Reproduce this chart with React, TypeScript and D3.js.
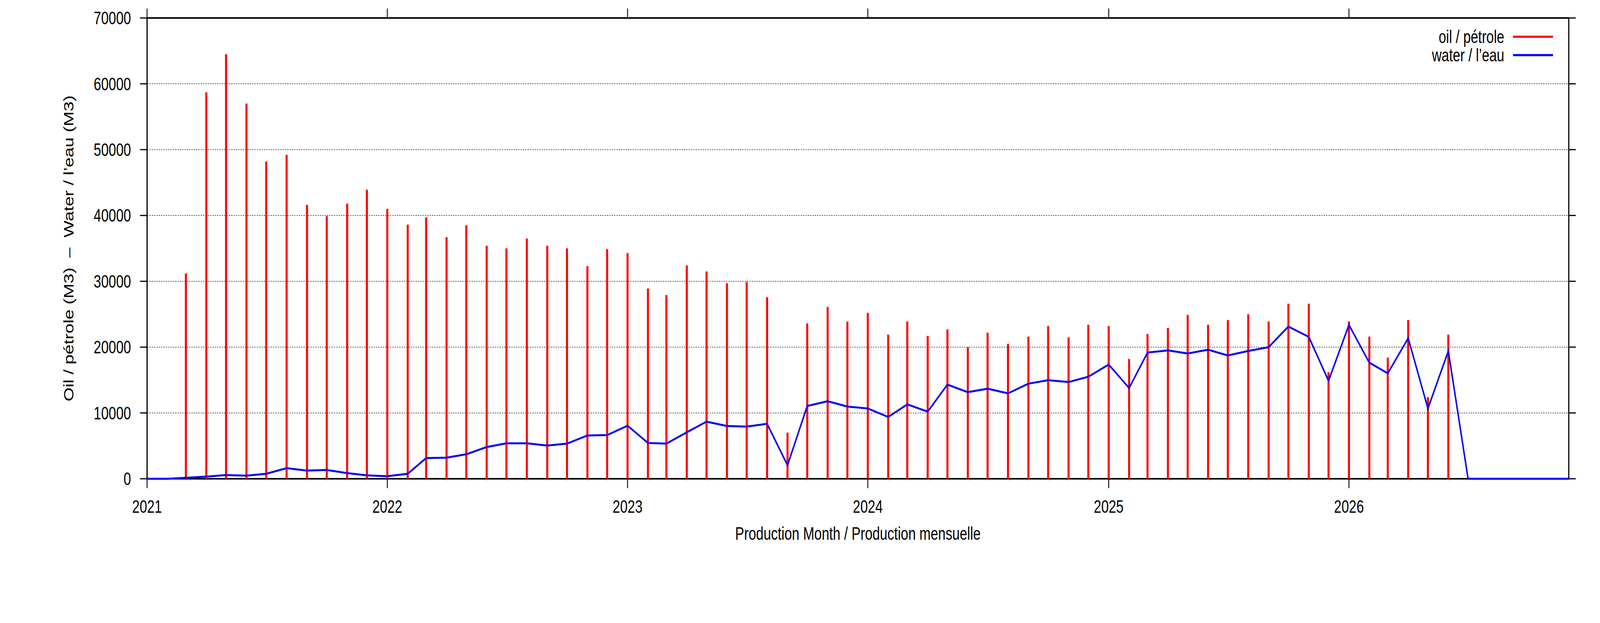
import React, { useEffect } from "react";
import * as d3 from "d3";

// ---- data ----
const oilStart = [2021, 2]; // March 2021 (month index 2)
const oilValues = [
  31200, 58700, 64500, 57000, 48200, 49200, 41600, 39900, 41800, 43900,
  41000, 38600, 39700, 36700, 38500, 35400, 35000, 36500, 35400, 35000, 32300, 34900,
  34300, 28900, 27900, 32400, 31500, 29700, 29900, 27600, 7000, 23600, 26100, 23900,
  25200, 21900, 23900, 21700, 22700, 20000, 22200, 20500, 21600, 23200, 21500, 23400,
  23200, 18200, 22000, 22900, 24900, 23400, 24100, 25000, 23900, 26600, 26600, 16200,
  23900, 21600, 18400, 24100, 12400, 21900,
];
const waterStart = [2021, 0]; // January 2021
const waterValues = [
  0, 0, 150, 330, 570, 480, 760, 1620, 1240, 1340, 860, 520,
  380, 760, 3150, 3200, 3720, 4820, 5390, 5390, 5050, 5340, 6580, 6630,
  8060, 5440, 5340, 7060, 8680, 8010, 7920, 8350, 2050, 11060, 11780, 10970,
  10680, 9390, 11300, 10200, 14310, 13160, 13690, 12970, 14450, 14970, 14690, 15500,
  17360, 13780, 19170, 19500, 19030, 19600, 18740, 19410, 20000, 23130, 21550, 14880,
  23370, 17640, 16020, 21360, 10680, 19410, 0, 0, 0, 0, 0, 0,
];
const xTickYears = [2021, 2022, 2023, 2024, 2025, 2026];
const yTicks = [0, 10000, 20000, 30000, 40000, 50000, 60000, 70000];
const legendLabels = ["oil / pétrole", "water / l’eau"];
const seriesColors = ["#ff0000", "#0000ff"];
const xTitle = "Production Month / Production mensuelle";
const yTitle = "Oil / pétrole (M3)  –  Water / l’eau (M3)";

const W = 5483;
const H = 1594;
const FONT = "'Liberation Sans', Arial, Helvetica, sans-serif";
const FS = 46;

const monthDate = (start: number[], i: number) =>
  new Date(Date.UTC(start[0], start[1] + i, 1));

export default function App() {
  useEffect(() => {
    document.body.style.margin = "0";
    document.body.style.overflow = "hidden";
    document.documentElement.style.overflow = "hidden";
  }, []);

  const left = 504;
  const right = 5376;
  const top = 46;
  const bottom = 1225;

  const x = d3
    .scaleUtc()
    .domain([new Date(Date.UTC(2021, 0, 1)), new Date(Date.UTC(2026, 11, 1))])
    .range([left, right]);
  const y = d3.scaleLinear().domain([0, 70000]).range([bottom, top]);

  const waterLine = d3
    .line<number>()
    .x((_, i) => x(monthDate(waterStart, i)))
    .y((d) => y(d));

  const tickLen = 24;

  return (
    <svg
      viewBox={`0 0 ${W} ${H}`}
      preserveAspectRatio="none"
      style={{
        position: "absolute",
        left: 0,
        top: 0,
        width: "100vw",
        height: "100vh",
        display: "block",
        background: "#fff",
      }}
      fontFamily={FONT}
      fontSize={FS}
    >
      <rect x={0} y={0} width={W} height={H} fill="#fff" />
      {/* grid */}
      {yTicks
        .filter((t) => t > 0 && t < 70000)
        .map((t) => (
          <line
            key={"g" + t}
            x1={left}
            x2={right}
            y1={y(t)}
            y2={y(t)}
            stroke="#000"
            strokeWidth={1.2}
            strokeDasharray="4.5,3.5"
          />
        ))}
      {/* border */}
      <rect
        x={left}
        y={top}
        width={right - left}
        height={bottom - top}
        fill="none"
        stroke="#000"
        strokeWidth={4}
      />
      {/* y ticks */}
      {yTicks.map((t) => (
        <g key={"yt" + t}>
          <line x1={left - tickLen} x2={left} y1={y(t)} y2={y(t)} stroke="#000" strokeWidth={3} />
          <line x1={right} x2={right + tickLen} y1={y(t)} y2={y(t)} stroke="#000" strokeWidth={3} />
          <text x={left - 55} y={y(t)} dy="0.35em" textAnchor="end">
            {t}
          </text>
        </g>
      ))}
      {/* x ticks */}
      {xTickYears.map((yr) => {
        const px = x(new Date(Date.UTC(yr, 0, 1)));
        return (
          <g key={"xt" + yr}>
            <line x1={px} x2={px} y1={bottom} y2={bottom + tickLen} stroke="#000" strokeWidth={3} />
            <line x1={px} x2={px} y1={top - tickLen} y2={top} stroke="#000" strokeWidth={3} />
            <text x={px} y={bottom + 87} textAnchor="middle">
              {yr}
            </text>
          </g>
        );
      })}
      {/* oil impulses */}
      {oilValues.map((v, i) => {
        const px = x(monthDate(oilStart, i));
        return (
          <line
            key={"o" + i}
            x1={px}
            x2={px}
            y1={y(0)}
            y2={y(v)}
            stroke={seriesColors[0]}
            strokeWidth={7}
          />
        );
      })}
      {/* water line */}
      <path
        d={waterLine(waterValues) || ""}
        fill="none"
        stroke={seriesColors[1]}
        strokeWidth={5}
        strokeLinejoin="miter"
      />
      {/* legend */}
      {legendLabels.map((lab, i) => {
        const ly = 94 + i * 47;
        return (
          <g key={"lg" + i}>
            <text x={5155} y={ly} dy="0.35em" textAnchor="end">
              {lab}
            </text>
            <line x1={5185} x2={5322} y1={ly} y2={ly} stroke={seriesColors[i]} strokeWidth={5.5} />
          </g>
        );
      })}
      {/* axis titles */}
      <text x={(left + right) / 2} y={1381} textAnchor="middle">
        {xTitle}
      </text>
      <text
        transform={`translate(251, ${(top + bottom) / 2}) rotate(-90)`}
        textAnchor="middle"
        style={{ whiteSpace: "pre" }}
      >
        {yTitle}
      </text>
    </svg>
  );
}
